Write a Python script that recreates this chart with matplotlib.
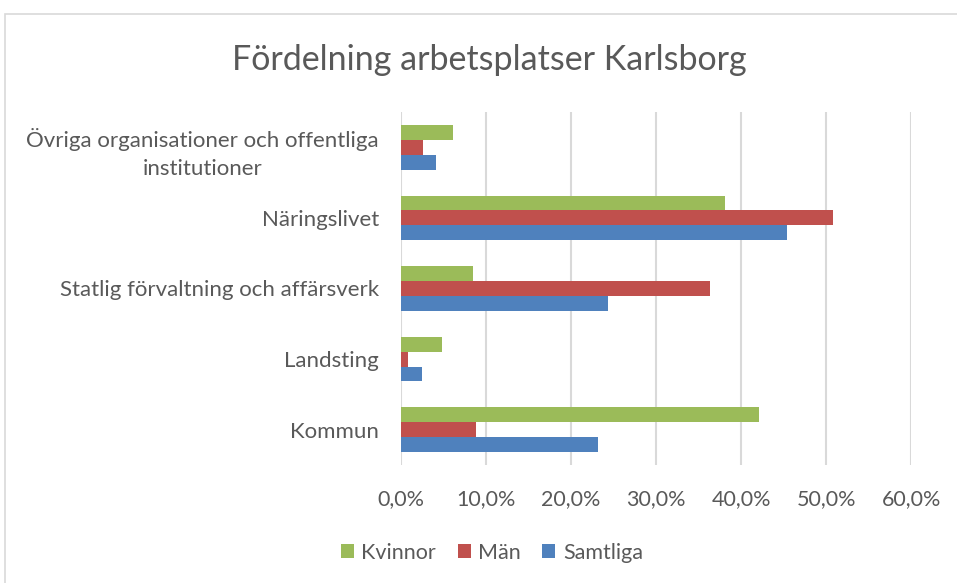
import matplotlib.pyplot as plt
import numpy as np
from matplotlib.patches import Rectangle
from matplotlib.ticker import FuncFormatter

plt.rcParams['font.family'] = ['Lato', 'DejaVu Sans']

categories = ['Kommun', 'Landsting', 'Statlig förvaltning och affärsverk',
              'Näringslivet', 'Övriga organisationer och offentliga\ninstitutioner']
kvinnor = [42.1, 4.8, 8.5, 38.1, 6.1]
man = [8.8, 0.8, 36.3, 50.8, 2.6]
samtliga = [23.2, 2.5, 24.3, 45.4, 4.1]
xticks = [0, 10, 20, 30, 40, 50, 60]

text_col = '#595959'
grid_col = '#D9D9D9'

fig = plt.figure(figsize=(9.57, 5.83), dpi=100)
ax = fig.add_axes([0.419, 0.2024, 0.533, 0.6055])

# outer chart frame
fig.patches.append(Rectangle((5 / 957, -0.1), 1.2, 1.1 - 14 / 583, transform=fig.transFigure,
                             fill=False, edgecolor=grid_col, linewidth=1.2))

y = np.arange(len(categories))
h = 0.21
ax.barh(y - h, samtliga, h, color='#4F81BD', label='Samtliga', zorder=3)
ax.barh(y, man, h, color='#C0504D', label='Män', zorder=3)
ax.barh(y + h, kvinnor, h, color='#9BBB59', label='Kvinnor', zorder=3)

ax.set_xlim(0, 60)
ax.set_ylim(-0.5, len(categories) - 0.5)
ax.set_xticks(xticks)
ax.xaxis.set_major_formatter(FuncFormatter(lambda v, p: f'{v:.1f}%'.replace('.', ',')))
ax.set_yticks(y)
ax.set_yticklabels(categories, multialignment='center', linespacing=1.5)
ax.tick_params(length=0, colors=text_col)
ax.tick_params(axis='x', pad=17, labelsize=15.5)
ax.tick_params(axis='y', pad=16, labelsize=16)
ax.grid(axis='x', color=grid_col, linewidth=1.5, zorder=0)
for s in ax.spines.values():
    s.set_visible(False)

fig.text(0.511, 0.897, 'Fördelning arbetsplatser Karlsborg', ha='center', va='center',
         fontsize=24.5, color=text_col)

handles, labels = ax.get_legend_handles_labels()
fig.legend(handles[::-1], labels[::-1], loc='center', bbox_to_anchor=(0.514, 0.052), ncol=3,
           frameon=False, fontsize=15.5, labelcolor=text_col, handlelength=0.6,
           handleheight=0.6, handletextpad=0.35, columnspacing=1.0)

fig.savefig('out.png', dpi=100)
